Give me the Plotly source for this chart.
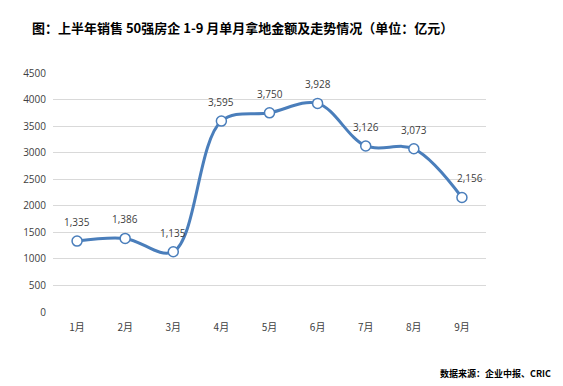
import plotly.graph_objects as go

months = ["1月", "2月", "3月", "4月", "5月", "6月", "7月", "8月", "9月"]
values = [1335, 1386, 1135, 3595, 3750, 3928, 3126, 3073, 2156]
y_ticks = [0, 500, 1000, 1500, 2000, 2500, 3000, 3500, 4000, 4500]

labels = [f"{v:,}" for v in values]

# page body has an 8px margin; compensate so the plot lands where the reference has it
OFF = 8
W, H = 563, 386
L, T = 53 - OFF, 73 - OFF
pw, ph = 433, 239
R = W - L - pw
B = H - T - ph

def px_x(x):
    return (x - OFF - L) / pw

def px_y(y):
    return (T + ph - (y - OFF)) / ph

fig = go.Figure()
fig.add_trace(go.Scatter(
    x=months, y=values,
    mode="lines+markers",
    line=dict(color="#4A7EBB", width=3, shape="spline", smoothing=1.0),
    marker=dict(size=10, color="white", line=dict(color="#4A7EBB", width=1.5)),
    cliponaxis=False,
    hoverinfo="skip",
))

annotations = [
    dict(x=m, y=v, text=t, xref="x", yref="y", showarrow=False,
         yshift=19, xshift=(8 if i == len(values) - 1 else 0),
         font=dict(family="Open Sans, Noto Sans, sans-serif", size=10, color="#404040"))
    for i, (m, v, t) in enumerate(zip(months, values, labels))
]
annotations += [
    dict(text="<b>图：上半年销售 50强房企 1-9 月单月拿地金额及走势情况（单位：亿元）</b>",
         xref="paper", yref="paper", x=px_x(30), y=px_y(27),
         xanchor="left", yanchor="middle", showarrow=False,
         font=dict(family="Noto Sans CJK SC", size=13, color="#000000")),
    dict(text="<b>数据来源：企业中报、CRIC</b>",
         xref="paper", yref="paper", x=px_x(553), y=px_y(373),
         xanchor="right", yanchor="middle", showarrow=False,
         font=dict(family="Noto Sans CJK SC", size=9, color="#000000")),
]

fig.update_layout(
    width=W, height=H,
    margin=dict(l=L, r=R, t=T, b=B, autoexpand=False),
    paper_bgcolor="white", plot_bgcolor="white",
    showlegend=False,
    font=dict(family="Noto Sans CJK SC, sans-serif", color="#595959"),
    xaxis=dict(
        type="category", range=[-0.5, 8.5], automargin=False,
        showgrid=False, zeroline=False, showline=False,
        tickfont=dict(size=10, color="#404040", family="Noto Sans CJK SC"),
        ticks="", ticklen=0, ticklabelstandoff=8,
    ),
    yaxis=dict(
        range=[0, 4500], tickvals=y_ticks, automargin=False,
        ticktext=[str(v) for v in y_ticks],
        showgrid=True, gridcolor="#D9D9D9", gridwidth=1,
        zeroline=False, showline=False,
        tickfont=dict(size=10, color="#404040", family="Open Sans, Noto Sans, sans-serif"),
        ticks="", ticklen=0, ticklabelstandoff=6,
    ),
    annotations=annotations,
)

fig.write_html("out.html")
